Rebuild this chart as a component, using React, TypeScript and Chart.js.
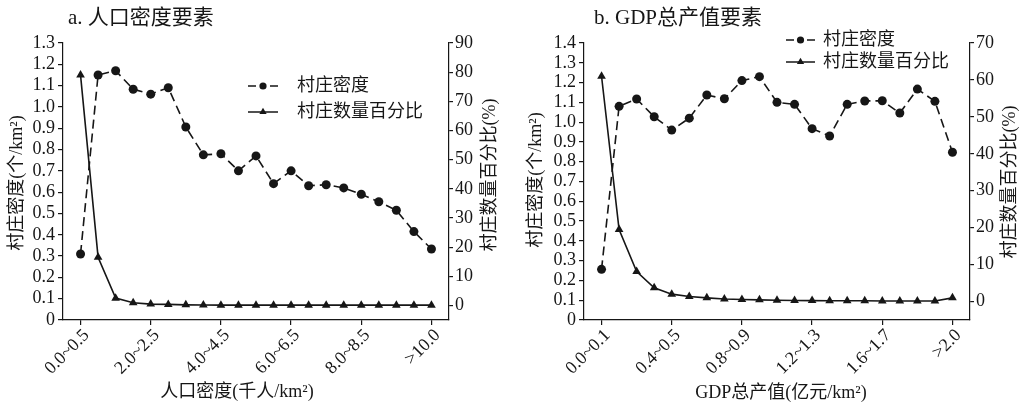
import React, { useEffect, useRef } from 'react';
import { Chart, registerables } from 'chart.js';

Chart.register(...registerables);

// ---------------- data ----------------
const popCategories = ['0.0~0.5', '0.5~1.0', '1.0~1.5', '1.5~2.0', '2.0~2.5', '2.5~3.0', '3.0~3.5', '3.5~4.0', '4.0~4.5', '4.5~5.0', '5.0~5.5', '5.5~6.0', '6.0~6.5', '6.5~7.0', '7.0~7.5', '7.5~8.0', '8.0~8.5', '8.5~9.0', '9.0~9.5', '9.5~10.0', '>10.0'];
const popDensity = [0.31, 1.15, 1.17, 1.083, 1.06, 1.09, 0.906, 0.775, 0.78, 0.70, 0.77, 0.64, 0.70, 0.63, 0.635, 0.62, 0.59, 0.555, 0.515, 0.415, 0.333];
const popPercent = [79, 16.5, 2.5, 0.9, 0.45, 0.35, 0.2, 0.15, 0.1, 0.1, 0.1, 0.1, 0.1, 0.1, 0.1, 0.1, 0.1, 0.1, 0.1, 0.1, 0.1];

const gdpCategories = ['0.0~0.1', '0.1~0.2', '0.2~0.3', '0.3~0.4', '0.4~0.5', '0.5~0.6', '0.6~0.7', '0.7~0.8', '0.8~0.9', '0.9~1.0', '1.0~1.1', '1.1~1.2', '1.2~1.3', '1.3~1.4', '1.4~1.5', '1.5~1.6', '1.6~1.7', '1.7~1.8', '1.8~1.9', '1.9~2.0', '>2.0'];
const gdpDensity = [0.256, 1.08, 1.117, 1.027, 0.96, 1.02, 1.137, 1.118, 1.21, 1.23, 1.10, 1.09, 0.967, 0.93, 1.09, 1.107, 1.108, 1.046, 1.167, 1.105, 0.848];
const gdpPercent = [61, 19.5, 8.1, 3.7, 2.0, 1.35, 1.0, 0.7, 0.55, 0.45, 0.35, 0.3, 0.25, 0.2, 0.2, 0.2, 0.15, 0.15, 0.15, 0.15, 1.0];

const labeledIndices = [0, 4, 8, 12, 16, 20];
const popDensityTicks = [0, 0.1, 0.2, 0.3, 0.4, 0.5, 0.6, 0.7, 0.8, 0.9, 1.0, 1.1, 1.2, 1.3];
const popPercentTicks = [0, 10, 20, 30, 40, 50, 60, 70, 80, 90];
const gdpDensityTicks = [0, 0.1, 0.2, 0.3, 0.4, 0.5, 0.6, 0.7, 0.8, 0.9, 1.0, 1.1, 1.2, 1.3, 1.4];
const gdpPercentTicks = [0, 10, 20, 30, 40, 50, 60, 70];

const seriesNames = ['村庄密度', '村庄数量百分比'];

// ---------------- style ----------------
const INK = '#161616';
const FAMILY = '"Liberation Serif", "Times New Roman", "Noto Sans CJK SC", serif';

type TextItem = { text: string; x: number; y: number; size: number; rotate?: number; align?: CanvasTextAlign };

type Panel = {
  categories: string[];
  density: number[];
  percent: number[];
  densityTicks: number[];
  percentTicks: number[];
  densityMax: number;
  percentMin: number;
  percentMax: number;
  leftWidth: number;
  rightWidth: number;
  texts: TextItem[];
  legend: { x0: number; x1: number; tx: number; y: number; gap: number };
};

const panels: Panel[] = [
  {
    categories: popCategories,
    density: popDensity,
    percent: popPercent,
    densityTicks: popDensityTicks,
    percentTicks: popPercentTicks,
    densityMax: 1.3,
    percentMin: -5,
    percentMax: 90,
    leftWidth: 63,
    rightWidth: 62,
    texts: [
      { text: 'a. 人口密度要素', x: 68, y: 18, size: 21 },
      { text: '人口密度(千人/km²)', x: 237, y: 392, size: 18, align: 'center' },
      { text: '村庄密度(个/km²)', x: 17, y: 183, size: 18, align: 'center', rotate: -Math.PI / 2 },
      { text: '村庄数量百分比(%)', x: 490, y: 175, size: 18, align: 'center', rotate: -Math.PI / 2 },
    ],
    legend: { x0: 248, x1: 278, tx: 297, y: 86, gap: 26 },
  },
  {
    categories: gdpCategories,
    density: gdpDensity,
    percent: gdpPercent,
    densityTicks: gdpDensityTicks,
    percentTicks: gdpPercentTicks,
    densityMax: 1.4,
    percentMin: -5,
    percentMax: 70,
    leftWidth: 73,
    rightWidth: 52,
    texts: [
      { text: 'b. GDP总产值要素', x: 83, y: 18, size: 21 },
      { text: 'GDP总产值(亿元/km²)', x: 270, y: 393, size: 18, align: 'center' },
      { text: '村庄密度(个/km²)', x: 25, y: 180, size: 18, align: 'center', rotate: -Math.PI / 2 },
      { text: '村庄数量百分比(%)', x: 499, y: 182, size: 18, align: 'center', rotate: -Math.PI / 2 },
    ],
    legend: { x0: 275, x1: 304, tx: 312, y: 40, gap: 22 },
  },
];

function drawMarker(ctx: CanvasRenderingContext2D, kind: string, x: number, y: number, r: number) {
  ctx.beginPath();
  if (kind === 'triangle') {
    ctx.moveTo(x, y - r);
    ctx.lineTo(x + 0.866 * r, y + 0.5 * r);
    ctx.lineTo(x - 0.866 * r, y + 0.5 * r);
    ctx.closePath();
  } else {
    ctx.arc(x, y, r, 0, Math.PI * 2);
  }
  ctx.fill();
}

function makeTextPlugin(p: Panel) {
  return {
    id: 'panelText',
    afterDraw(chart: any) {
      const ctx: CanvasRenderingContext2D = chart.ctx;
      ctx.save();
      ctx.fillStyle = INK;
      ctx.strokeStyle = INK;
      ctx.textBaseline = 'middle';
      for (const t of p.texts) {
        ctx.save();
        ctx.font = `${t.size}px ${FAMILY}`;
        ctx.textAlign = t.align ?? 'left';
        ctx.translate(t.x, t.y);
        if (t.rotate) ctx.rotate(t.rotate);
        ctx.fillText(t.text, 0, 0);
        ctx.restore();
      }
      // legend
      const lg = p.legend;
      chart.data.datasets.forEach((ds: any, i: number) => {
        const y = lg.y + i * lg.gap;
        const mid = (lg.x0 + lg.x1) / 2;
        ctx.lineWidth = 1.5;
        ctx.setLineDash([]);
        ctx.beginPath();
        if (i === 0) {
          ctx.moveTo(lg.x0, y);
          ctx.lineTo(lg.x0 + 8, y);
          ctx.moveTo(lg.x1 - 8, y);
          ctx.lineTo(lg.x1, y);
        } else {
          ctx.moveTo(lg.x0, y);
          ctx.lineTo(lg.x1, y);
        }
        ctx.stroke();
        drawMarker(ctx, ds.pointStyle, mid, y, i === 0 ? 3.6 : 4.2);
        ctx.font = `18px ${FAMILY}`;
        ctx.textAlign = 'left';
        ctx.fillText(ds.label, lg.tx, y);
      });
      ctx.restore();
    },
  };
}

function makeConfig(p: Panel): any {
  const tickFont = { family: FAMILY, size: 18 };
  const gridOpts = { drawOnChartArea: false, drawTicks: true, tickLength: 5, color: INK, lineWidth: 1.2 };
  const borderOpts = { color: INK, width: 1.2 };
  return {
    type: 'line',
    data: {
      datasets: [
        {
          label: seriesNames[0],
          data: p.density.map((v, i) => ({ x: i, y: v })),
          yAxisID: 'yL',
          borderColor: INK,
          backgroundColor: INK,
          borderWidth: 1.6,
          borderDash: [9, 5],
          pointStyle: 'circle',
          pointRadius: 4.5,
          pointBorderWidth: 0,
          tension: 0,
          fill: false,
        },
        {
          label: seriesNames[1],
          data: p.percent.map((v, i) => ({ x: i, y: v })),
          yAxisID: 'yR',
          borderColor: INK,
          backgroundColor: INK,
          borderWidth: 1.6,
          pointStyle: 'triangle',
          pointRadius: 5,
          pointBorderWidth: 0,
          tension: 0,
          fill: false,
        },
      ],
    },
    options: {
      animation: false,
      responsive: false,
      events: [],
      layout: { padding: { top: 43, left: 0, right: 0, bottom: 0 } },
      plugins: {
        legend: { display: false },
        title: { display: false },
        tooltip: { enabled: false },
      },
      scales: {
        x: {
          type: 'linear',
          min: -1,
          max: p.categories.length,
          afterBuildTicks: (axis: any) => {
            axis.ticks = labeledIndices.map((v) => ({ value: v }));
          },
          afterFit: (s: any) => {
            s.height = 86;
          },
          ticks: {
            autoSkip: false,
            minRotation: 45,
            maxRotation: 45,
            padding: 0,
            labelOffset: 6,
            color: INK,
            font: { family: FAMILY, size: 18 },
            callback: (v: number) => p.categories[v] ?? '',
          },
          grid: gridOpts,
          border: borderOpts,
        },
        yL: {
          position: 'left',
          min: 0,
          max: p.densityMax,
          afterBuildTicks: (axis: any) => {
            axis.ticks = p.densityTicks.map((v) => ({ value: v }));
          },
          afterFit: (s: any) => {
            s.width = p.leftWidth;
          },
          ticks: {
            autoSkip: false,
            padding: 3,
            color: INK,
            font: tickFont,
            callback: (v: number) => (v === 0 ? '0' : Number(v).toFixed(1)),
          },
          grid: gridOpts,
          border: borderOpts,
        },
        yR: {
          position: 'right',
          min: p.percentMin,
          max: p.percentMax,
          afterBuildTicks: (axis: any) => {
            axis.ticks = p.percentTicks.map((v) => ({ value: v }));
          },
          afterFit: (s: any) => {
            s.width = p.rightWidth;
          },
          ticks: {
            autoSkip: false,
            padding: 2,
            color: INK,
            font: tickFont,
            callback: (v: number) => String(v),
          },
          grid: { ...gridOpts, tickLength: 4 },
          border: borderOpts,
        },
      },
    },
    plugins: [makeTextPlugin(p)],
  };
}

function PanelChart({ panel, left }: { panel: Panel; left: number }) {
  const ref = useRef<HTMLCanvasElement | null>(null);
  useEffect(() => {
    if (!ref.current) return;
    const chart = new Chart(ref.current, makeConfig(panel));
    return () => chart.destroy();
  }, [panel]);
  return (
    <canvas
      ref={ref}
      width={511}
      height={406}
      style={{ position: 'absolute', left, top: 0, width: 511, height: 406 }}
    />
  );
}

export default function App() {
  return (
    <div style={{ position: 'absolute', left: 0, top: 0, width: 1022, height: 406, background: '#fff', overflow: 'hidden' }}>
      <PanelChart panel={panels[0]} left={0} />
      <PanelChart panel={panels[1]} left={511} />
    </div>
  );
}
